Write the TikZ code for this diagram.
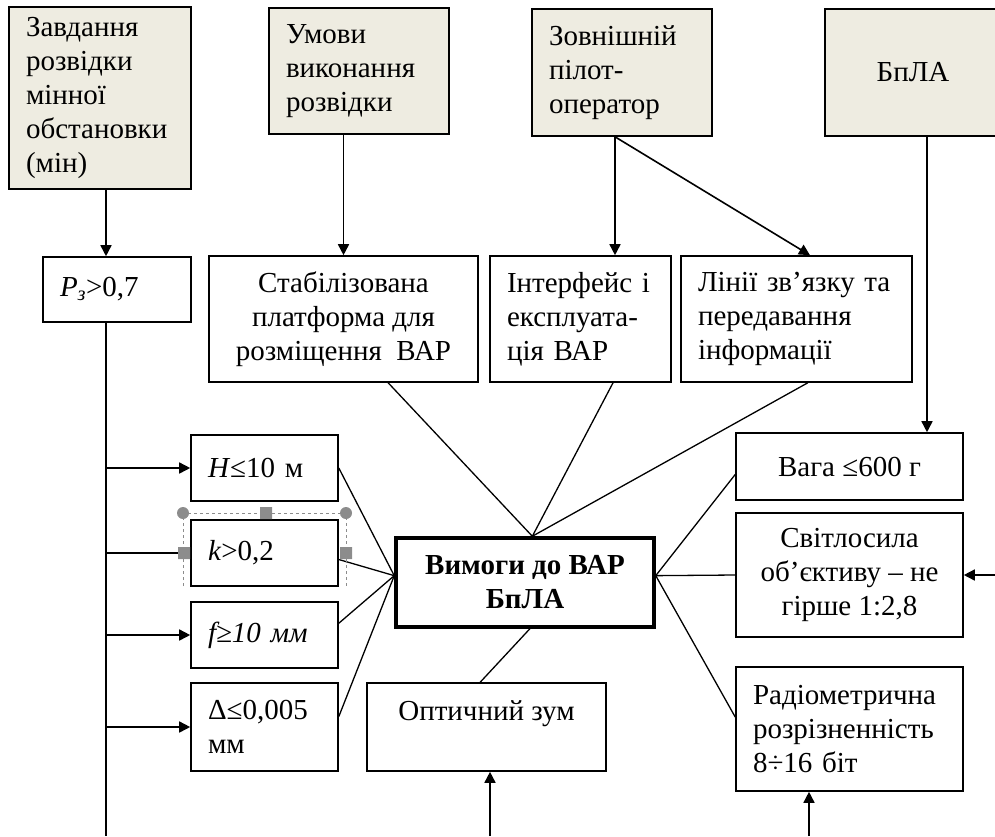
\documentclass[tikz,border=0pt]{standalone}
\usepackage{fontspec}
\setmainfont{Liberation Serif}
\usetikzlibrary{arrows.meta}
\definecolor{topfill}{HTML}{EEECE1}
\definecolor{handlegray}{HTML}{8C8C8C}

\begin{document}
\begin{tikzpicture}[x=1pt,y=-1pt,>={Triangle[length=11pt,width=11pt]},
  box/.style={draw,line width=1.6pt,inner sep=0pt,font=\fontsize{29pt}{34pt}\selectfont},
  top box/.style={box,fill=topfill,align=left},
  req box/.style={box,align=left},
  mid box/.style={box,align=center},
  main req/.style={box,line width=3.5pt,align=center,font=\fontsize{29pt}{34pt}\selectfont\bfseries},
  link/.style={line width=1.3pt},
  flow/.style={->,line width=1.6pt},
  handle line/.style={handlegray,dashed,line width=1pt}]

  \useasboundingbox (0,0) rectangle (995,836);

  \node[top box, minimum width=182pt, minimum height=182pt, text width=148pt] (task) at (100,98) {Завдання\\розвідки\\мінної\\обстановки\\(мін)};
  \node[top box, minimum width=180pt, minimum height=126pt, text width=146pt] (umovy) at (359,71) {Умови\\виконання\\розвідки};
  \node[top box, minimum width=180pt, minimum height=127pt, text width=146pt] (zovn) at (622,72.5) {Зовнішній\\пілот-\\оператор};
  \node[top box, align=center, minimum width=176pt, minimum height=127pt] (bpla) at (913,72.5) {БпЛА};

  \node[req box, minimum width=148pt, minimum height=65pt, text width=114pt] (pz) at (117,289.5) {\textit{P\textsubscript{з}}>0,7};
  \node[mid box, minimum width=269pt, minimum height=126pt] (stab) at (343.5,319) {Стабілізована\\платформа для\\розміщення\ \ ВАР};
  \node[req box, minimum width=181pt, minimum height=126pt, text width=147pt] (inter) at (580.5,319) {Інтерфейс і\\експлуата-\\ція ВАР};
  \node[req box, minimum width=231pt, minimum height=126pt, text width=197pt] (lines) at (796.5,319) {Лінії зв’язку та\\передавання\\інформації};

  \node[req box, minimum width=147pt, minimum height=66pt, text width=113pt] (hbox) at (264.5,468) {\textit{H}≤10 м};
  \node[req box, minimum width=147pt, minimum height=66pt, text width=113pt] (kbox) at (264.5,553) {\textit{k}>0,2};
  \node[req box, minimum width=147pt, minimum height=66pt, text width=113pt] (fbox) at (264.5,635) {\textit{f≥10 мм}};
  \node[req box, minimum width=147pt, minimum height=88pt, text width=113pt] (dbox) at (264.5,727) {Δ≤0,005\\мм};

  \node[main req, minimum width=258pt, minimum height=89pt] (vymogy) at (525,582.5) {Вимоги до ВАР\\БпЛА};
  \node[mid box, minimum width=239pt, minimum height=88pt] (zoom) at (486.5,727) {Оптичний зум\\[-12pt]\strut};

  \node[mid box, minimum width=227pt, minimum height=67pt] (vaga) at (849.5,466.5) {Вага ≤600 г};
  \node[mid box, minimum width=227pt, minimum height=124pt] (svit) at (849.5,575) {Світлосила\\об’єктиву – не\\гірше 1:2,8};
  \node[req box, minimum width=227pt, minimum height=124pt, text width=193pt] (radio) at (849.5,729) {Радіометрична\\розрізненність\\8÷16 біт};

  \coordinate (trunk) at (106,836);
  \coordinate (zovnout) at ([xshift=-7pt]zovn.south);
  \coordinate (bplaout) at ([xshift=14pt]bpla.south);
  \coordinate (svitin) at (995,575);
  \coordinate (zoomin) at (490,836);
  \coordinate (radin) at (809,836);

  \path[link]
    (stab.-55) edge (vymogy.81)
    (inter.-63) edge (vymogy.81)
    (lines.-80) edge (vymogy.81)
    (hbox.east) edge (vymogy.177)
    (kbox.-5) edge (vymogy.177)
    (fbox.9) edge (vymogy.177)
    (dbox.8) edge (vymogy.177)
    (vymogy.276) edge (zoom.98)
    (vymogy.3) edge (vaga.184)
               edge (svit.west)
               edge (radio.174);

  \path[flow]
    (task.south -| trunk) edge (pz.north -| trunk)
    (umovy.south -| stab.north) edge (stab.north)
    (zovnout) edge (zovnout |- inter.north)
              edge ([xshift=13.5pt]lines.north)
    (bplaout) edge (bplaout |- vaga.north)
    (svitin) edge (svit.east)
    (zoomin) edge (zoomin |- zoom.south)
    (radin) edge (radin |- radio.south)
    (hbox.west -| trunk) edge (hbox.west)
    (kbox.west -| trunk) edge (kbox.west)
    (fbox.west -| trunk) edge (fbox.west)
    (dbox.west -| trunk) edge (dbox.west);
  \draw[flow,-] (pz.south -| trunk) -- (trunk);

  % selection frame round k
  \draw[handle line] (183,586) |- (346,513) -- (346,586);
  \fill[handlegray] (183,513) circle (6pt) (346,513) circle (6pt);
  \fill[handlegray] (260,507) rectangle (272,519) (178,547) rectangle (190,559) (340,547) rectangle (352,559);
\end{tikzpicture}
\end{document}
